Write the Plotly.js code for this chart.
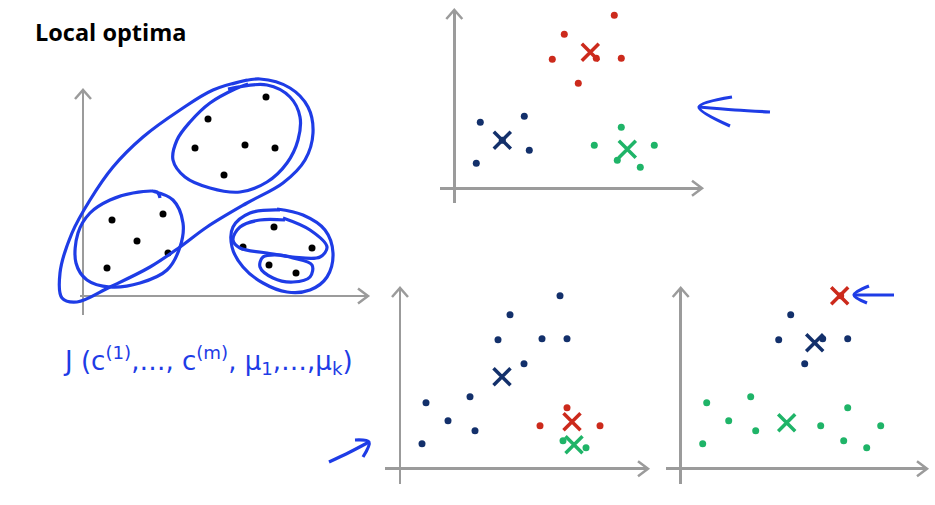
<!DOCTYPE html>
<html><head><meta charset="utf-8">
<script src="https://cdn.plot.ly/plotly-3.0.1.min.js"></script>
<style>html,body{margin:0;padding:0;background:#fff}#chart{width:935px;height:505px}</style>
</head><body><div id="chart"></div>
<script>
// ---- data (values relative to each panel's origin) ----
// Panel 1: unlabelled points
const p1X = [183,125,112,162,192,141,29,80,54,85,24,191,160,229,186,213];
const p1Y = [199,177,148,151,148,121,76,82,55,43,28,69,49,48,31,23];
// Shared dataset used in panels 2-4
const groupAX = [160,110,98,167,124,142];
const groupAY = [173,154,129,130,105,130];
const groupBX = [26,70,75,22,48];
const groupBY = [66,72,38,25,48];
const groupCX = [167,140,200,163,186];
const groupCY = [61,43,43,28,21];
// Centroids per panel, order: navy, red, green
const p2CentX = [48,136,173];
const p2CentY = [48,136,39];
const p3CentX = [102,172,174];
const p3CentY = [92,47,24];
const p4CentX = [134,159,106];
const p4CentY = [126,173,46];

const NAVY='#13306b', RED='#cc2a1c', GREEN='#1fb468', BLUE='#1e3ce6', GRAY='#9b9b9b';
const W=935, H=505;

// panel frames in pixels: axis extents and origin
const panels = [
  {x0:80,  x1:368, y0:90,  y1:315, ox:83,    oy:296},
  {x0:440, x1:702, y0:10,  y1:203, ox:454.3, oy:188.3},
  {x0:385, x1:648, y0:288, y1:484, ox:400,   oy:468.7},
  {x0:666, x1:927, y0:288, y1:484, ox:680.7, oy:468.7}
];

const layout = {
  width:W, height:H, margin:{l:0,r:0,t:0,b:0},
  paper_bgcolor:'#fff', plot_bgcolor:'rgba(0,0,0,0)', showlegend:false,
  shapes:[], annotations:[]
};
panels.forEach((p,i)=>{
  const n = i+1, s = n===1?'':String(n);
  layout['xaxis'+s] = {domain:[p.x0/W, p.x1/W], range:[p.x0-p.ox, p.x1-p.ox], anchor:'y'+s,
    showgrid:false, showticklabels:false, ticks:'', showline:false, zeroline:true,
    zerolinecolor:GRAY, zerolinewidth:2.5, fixedrange:true};
  layout['yaxis'+s] = {domain:[1-p.y1/H, 1-p.y0/H], range:[p.oy-p.y1, p.oy-p.y0], anchor:'x'+s,
    showgrid:false, showticklabels:false, ticks:'', showline:false, zeroline:true,
    zerolinecolor:GRAY, zerolinewidth:2.5, fixedrange:true};
  // arrow heads (overlay pixel axes)
  layout.shapes.push({type:'path', xref:'x5', yref:'y5',
    path:`M${p.ox-8},${p.y0+9} L${p.ox},${p.y0} L${p.ox+8},${p.y0+9}`, line:{color:GRAY,width:2.5}});
  layout.shapes.push({type:'path', xref:'x5', yref:'y5',
    path:`M${p.x1-10},${p.oy-7.5} L${p.x1},${p.oy} L${p.x1-10},${p.oy+7.5}`, line:{color:GRAY,width:2.5}});
});
layout.xaxis5 = {domain:[0,1], range:[0,W], visible:false, anchor:'y5', fixedrange:true};
layout.yaxis5 = {domain:[0,1], range:[H,0], visible:false, anchor:'x5', fixedrange:true};

const traces = [];
function dots(xs, ys, color, n){
  const s = n===1?'':String(n);
  traces.push({type:'scatter', mode:'markers', x:xs, y:ys, xaxis:'x'+s, yaxis:'y'+s,
    marker:{size:7, color:color}, cliponaxis:false, hoverinfo:'skip'});
}
function cents(xs, ys, colors, n){
  const s = n===1?'':String(n);
  traces.push({type:'scatter', mode:'markers', x:xs, y:ys, xaxis:'x'+s, yaxis:'y'+s,
    marker:{symbol:'x-thin', size:17, color:colors, line:{width:3.5, color:colors}},
    cliponaxis:false, hoverinfo:'skip'});
}
// panel 1
dots(p1X, p1Y, '#000', 1);
// panel 2
dots(groupAX, groupAY, RED, 2);
dots(groupBX, groupBY, NAVY, 2);
dots(groupCX, groupCY, GREEN, 2);
cents(p2CentX, p2CentY, [NAVY,RED,GREEN], 2);
// panel 3
dots(groupAX.concat(groupBX), groupAY.concat(groupBY), NAVY, 3);
dots(groupCX.slice(0,3), groupCY.slice(0,3), RED, 3);
dots(groupCX.slice(3), groupCY.slice(3), GREEN, 3);
cents(p3CentX, p3CentY, [NAVY,RED,GREEN], 3);
// panel 4
dots(groupAX.slice(0,1), groupAY.slice(0,1), RED, 4);
dots(groupAX.slice(1), groupAY.slice(1), NAVY, 4);
dots(groupBX.concat(groupCX), groupBY.concat(groupCY), GREEN, 4);
cents(p4CentX, p4CentY, [NAVY,RED,GREEN], 4);

// hand-drawn blue strokes (pixel coords on overlay axes)
const strokes = [
  // big diagonal loop
  [[232,84],[260,79],[290,88],[308,107],[313,133],[305,160],[283,183],[247,203],[207,227],[180,247],[150,267],[110,287],[77,302],[62,298],[60,273],[72,233],[90,200],[113,167],[143,137],[180,110],[213,90],[247,80]],
  // top cluster
  [[228,89],[267,85],[290,97],[300,117],[298,140],[287,163],[267,182],[240,192],[210,188],[185,177],[173,160],[177,140],[190,122],[210,103],[235,89],[248,84]],
  // lower-left cluster
  [[152,191],[173,200],[183,223],[180,247],[167,270],[140,283],[110,287],[87,280],[76,263],[78,233],[90,213],[110,200],[133,193],[157,192],[160,198]],
  // lower-right outer
  [[277,209],[303,215],[325,230],[333,253],[327,277],[310,290],[287,292],[263,283],[243,267],[232,247],[233,227],[250,213],[280,210]],
  // lower-right inner (top three)
  [[283,218],[310,230],[327,247],[320,257],[293,257],[267,253],[240,248],[233,240],[240,227],[260,220],[285,220]],
  // small loop
  [[293,258],[312,265],[310,277],[293,282],[273,278],[260,267],[263,257],[280,255],[293,258]],
  // arrow top right
  [[770,112],[735,110],[699,107]],
  [[732,97],[699,107],[730,126]],
  // arrow bottom left
  [[329,462],[350,452],[369,442]],
  [[355,440],[369,442],[363,457]],
  // arrow bottom right
  [[894,295],[874,295],[854,295]],
  [[869,286],[854,295],[867,303]]
];
strokes.forEach(pts=>{
  traces.push({type:'scatter', mode:'lines', x:pts.map(p=>p[0]), y:pts.map(p=>p[1]),
    xaxis:'x5', yaxis:'y5', line:{color:BLUE, width:3.2, shape:'spline', smoothing:1},
    hoverinfo:'skip', cliponaxis:false});
});

layout.annotations.push({xref:'paper', yref:'paper', x:33/W, y:1-32/H, xanchor:'left', yanchor:'middle',
  text:'<b>Local optima</b>', showarrow:false, font:{family:'Open Sans, sans-serif', size:23.5, color:'#000'}});
layout.annotations.push({xref:'paper', yref:'paper', x:208/W, y:1-360/H, xanchor:'center', yanchor:'middle',
  text:'J (c<sup>(1)</sup>,…, c<sup>(m)</sup>, μ<sub>1</sub>,…,μ<sub>k</sub>)', showarrow:false,
  font:{family:'DejaVu Sans, sans-serif', size:26, color:BLUE}});

Plotly.newPlot('chart', traces, layout, {staticPlot:true, displayModeBar:false});
</script></body></html>
